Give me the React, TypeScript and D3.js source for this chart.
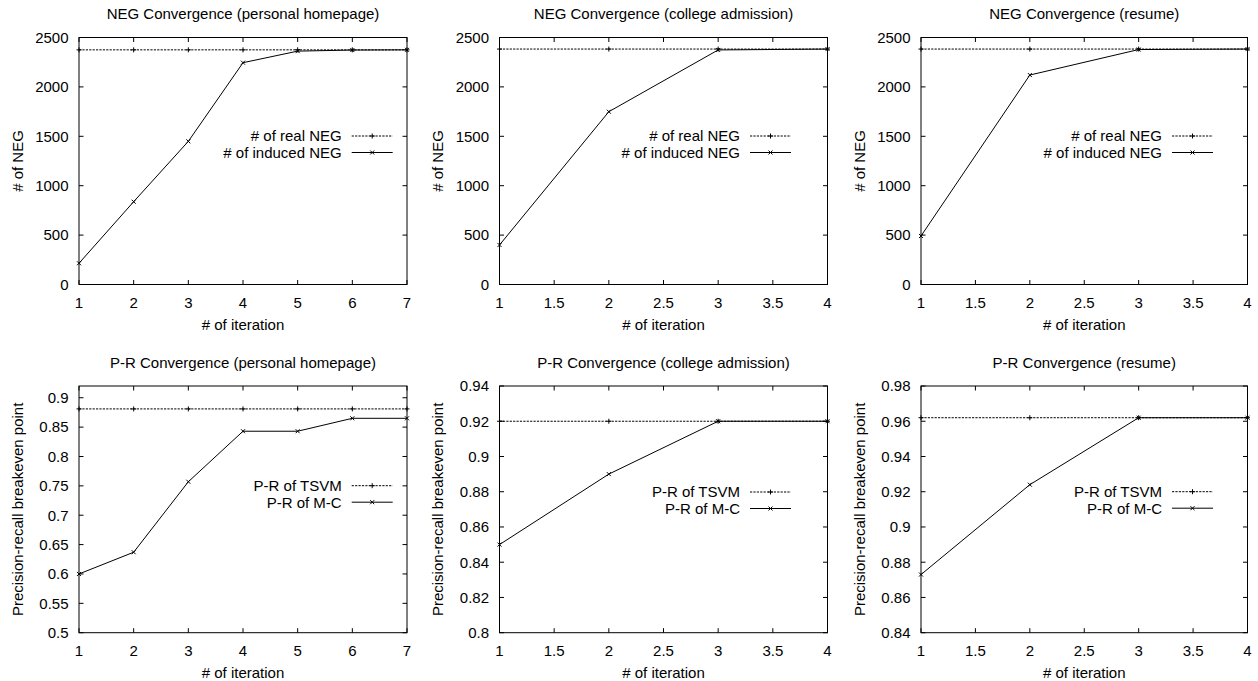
import React from "react";
import * as d3 from "d3";

// ---------- data ----------
const iterLong = [1, 2, 3, 4, 5, 6, 7];
const iterShort = [1, 2, 3, 4];

const negRealHomepage = [2375, 2375, 2375, 2375, 2375, 2375, 2375];
const negInducedHomepage = [215, 838, 1449, 2245, 2362, 2373, 2375];

const negRealCollege = [2383, 2383, 2383, 2383];
const negInducedCollege = [400, 1749, 2374, 2383];

const negRealResume = [2383, 2383, 2383, 2383];
const negInducedResume = [491, 2120, 2378, 2383];

const prTsvmHomepage = [0.881, 0.881, 0.881, 0.881, 0.881, 0.881, 0.881];
const prMcHomepage = [0.6, 0.637, 0.757, 0.843, 0.843, 0.865, 0.865];

const prTsvmCollege = [0.92, 0.92, 0.92, 0.92];
const prMcCollege = [0.85, 0.89, 0.92, 0.92];

const prTsvmResume = [0.962, 0.962, 0.962, 0.962];
const prMcResume = [0.873, 0.924, 0.962, 0.962];

// tick labels
const xTicksLong = [1, 2, 3, 4, 5, 6, 7];
const xTicksShort = [1, 1.5, 2, 2.5, 3, 3.5, 4];
const yTicksNeg = [0, 500, 1000, 1500, 2000, 2500];
const yTicksPrHome = [0.5, 0.55, 0.6, 0.65, 0.7, 0.75, 0.8, 0.85, 0.9];
const yTicksPrCollege = [0.8, 0.82, 0.84, 0.86, 0.88, 0.9, 0.92, 0.94];
const yTicksPrResume = [0.84, 0.86, 0.88, 0.9, 0.92, 0.94, 0.96, 0.98];

const negLegend = ["# of real NEG", "# of induced NEG"];
const prLegend = ["P-R of TSVM", "P-R of M-C"];

// ---------- layout ----------
const FONT = "'Liberation Sans', Arial, Helvetica, sans-serif";
const FS = 15;

type Panel = {
  title: string;
  ylabel: string;
  x: number[];
  ref: number[];
  val: number[];
  xDomain: [number, number];
  yDomain: [number, number];
  xTicks: number[];
  yTicks: number[];
  legend: string[];
  rect: [number, number, number, number];
  legendRight: number;
  legendRow: number;
};

const TOP: [number, number] = [37.5, 284.5];
const BOT: [number, number] = [386, 632.7];
const COLS: [number, number][] = [
  [79, 407],
  [499.5, 827.5],
  [921, 1247.5],
];

const panels: Panel[] = [
  {
    title: "NEG Convergence (personal homepage)", ylabel: "# of NEG",
    x: iterLong, ref: negRealHomepage, val: negInducedHomepage,
    xDomain: [1, 7], yDomain: [0, 2500], xTicks: xTicksLong, yTicks: yTicksNeg, legend: negLegend,
    rect: [COLS[0][0], TOP[0], COLS[0][1], TOP[1]], legendRight: 14.3, legendRow: 136,
  },
  {
    title: "NEG Convergence (college admission)", ylabel: "# of NEG",
    x: iterShort, ref: negRealCollege, val: negInducedCollege,
    xDomain: [1, 4], yDomain: [0, 2500], xTicks: xTicksShort, yTicks: yTicksNeg, legend: negLegend,
    rect: [COLS[1][0], TOP[0], COLS[1][1], TOP[1]], legendRight: 36.5, legendRow: 136,
  },
  {
    title: "NEG Convergence (resume)", ylabel: "# of NEG",
    x: iterShort, ref: negRealResume, val: negInducedResume,
    xDomain: [1, 4], yDomain: [0, 2500], xTicks: xTicksShort, yTicks: yTicksNeg, legend: negLegend,
    rect: [COLS[2][0], TOP[0], COLS[2][1], TOP[1]], legendRight: 34.5, legendRow: 136,
  },
  {
    title: "P-R Convergence (personal homepage)", ylabel: "Precision-recall breakeven point",
    x: iterLong, ref: prTsvmHomepage, val: prMcHomepage,
    xDomain: [1, 7], yDomain: [0.5, 0.92], xTicks: xTicksLong, yTicks: yTicksPrHome, legend: prLegend,
    rect: [COLS[0][0], BOT[0], COLS[0][1], BOT[1]], legendRight: 14.3, legendRow: 485.7,
  },
  {
    title: "P-R Convergence (college admission)", ylabel: "Precision-recall breakeven point",
    x: iterShort, ref: prTsvmCollege, val: prMcCollege,
    xDomain: [1, 4], yDomain: [0.8, 0.94], xTicks: xTicksShort, yTicks: yTicksPrCollege, legend: prLegend,
    rect: [COLS[1][0], BOT[0], COLS[1][1], BOT[1]], legendRight: 36.5, legendRow: 492,
  },
  {
    title: "P-R Convergence (resume)", ylabel: "Precision-recall breakeven point",
    x: iterShort, ref: prTsvmResume, val: prMcResume,
    xDomain: [1, 4], yDomain: [0.84, 0.98], xTicks: xTicksShort, yTicks: yTicksPrResume, legend: prLegend,
    rect: [COLS[2][0], BOT[0], COLS[2][1], BOT[1]], legendRight: 34.5, legendRow: 491.7,
  },
];

const fmt = (v: number) => String(+v.toFixed(4));

const Plus = ({ x, y }: { x: number; y: number }) => (
  <path d={`M${x - 2.5},${y}H${x + 2.5}M${x},${y - 2.5}V${y + 2.5}`} stroke="#000" strokeWidth={1} />
);
const Cross = ({ x, y }: { x: number; y: number }) => (
  <path d={`M${x - 2},${y - 2}L${x + 2},${y + 2}M${x - 2},${y + 2}L${x + 2},${y - 2}`} stroke="#000" strokeWidth={1} />
);

function PanelView({ p }: { p: Panel }) {
  const [x0, y0, x1, y1] = p.rect;
  const xs = d3.scaleLinear().domain(p.xDomain).range([x0, x1]);
  const ys = d3.scaleLinear().domain(p.yDomain).range([y1, y0]);
  const line = d3
    .line<number>()
    .x((_, i) => xs(p.x[i]))
    .y((d) => ys(d));
  const tl = 4.5;
  const cx = (x0 + x1) / 2;
  const cy = (y0 + y1) / 2;
  const lx2 = x1 - p.legendRight;
  const lx1 = lx2 - 41;
  const tx = lx1 - 10;
  const r1 = p.legendRow;
  const r2 = p.legendRow + 16.5;
  return (
    <g fontFamily={FONT} fontSize={FS} fill="#000">
      <text x={cx} y={y0 - 18.2} textAnchor="middle">{p.title}</text>
      {/* ticks */}
      {p.xTicks.map((t) => (
        <g key={"x" + t}>
          <line x1={xs(t)} x2={xs(t)} y1={y1} y2={y1 - tl} stroke="#000" />
          <line x1={xs(t)} x2={xs(t)} y1={y0} y2={y0 + tl} stroke="#000" />
          <text x={xs(t)} y={y1 + 23} textAnchor="middle">{fmt(t)}</text>
        </g>
      ))}
      {p.yTicks.map((t) => (
        <g key={"y" + t}>
          <line x1={x0} x2={x0 + tl} y1={ys(t)} y2={ys(t)} stroke="#000" />
          <line x1={x1} x2={x1 - tl} y1={ys(t)} y2={ys(t)} stroke="#000" />
          <text x={x0 - 10.5} y={ys(t) + 5.3} textAnchor="end">{fmt(t)}</text>
        </g>
      ))}
      <text x={cx} y={y1 + 45.5} textAnchor="middle">
        # of iteration
      </text>
      <text transform={`translate(${x0 - 56.5},${cy}) rotate(-90)`} textAnchor="middle">
        {p.ylabel}
      </text>
      {/* series */}
      <path d={line(p.ref) || ""} fill="none" stroke="#000" strokeWidth={1} strokeDasharray="2.2,1.2" />
      <path d={line(p.val) || ""} fill="none" stroke="#000" strokeWidth={1} />
      {p.ref.map((v, i) => (
        <Plus key={"p" + i} x={xs(p.x[i])} y={ys(v)} />
      ))}
      {p.val.map((v, i) => (
        <Cross key={"c" + i} x={xs(p.x[i])} y={ys(v)} />
      ))}
      {/* legend */}
      <text x={tx} y={r1 + 5.3} textAnchor="end">{p.legend[0]}</text>
      <line x1={lx1} x2={lx2} y1={r1} y2={r1} stroke="#000" strokeDasharray="2.2,1.2" />
      <Plus x={(lx1 + lx2) / 2} y={r1} />
      <text x={tx} y={r2 + 5.3} textAnchor="end">{p.legend[1]}</text>
      <line x1={lx1} x2={lx2} y1={r2} y2={r2} stroke="#000" />
      <Cross x={(lx1 + lx2) / 2} y={r2} />
      {/* frame */}
      <rect x={x0} y={y0} width={x1 - x0} height={y1 - y0} fill="none" stroke="#000" strokeWidth={1} />
    </g>
  );
}

export default function App() {
  return (
    <svg
      width={1258}
      height={681}
      style={{ position: "absolute", left: 0, top: 0, background: "#fff" }}
    >
      <rect width={1258} height={681} fill="#fff" />
      {panels.map((p, i) => (
        <PanelView key={i} p={p} />
      ))}
    </svg>
  );
}
